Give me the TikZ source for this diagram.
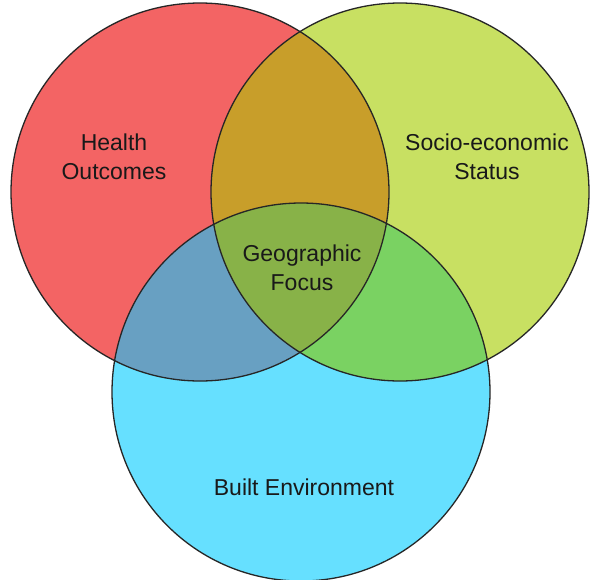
\documentclass[tikz,border=0pt]{standalone}
\usepackage{fontspec}
\setmainfont{Liberation Sans}
\definecolor{cR}{RGB}{243,100,100}
\definecolor{cG}{RGB}{200,224,98}
\definecolor{cB}{RGB}{102,224,255}
\definecolor{cRG}{RGB}{200,158,42}
\definecolor{cRB}{RGB}{104,160,194}
\definecolor{cGB}{RGB}{122,210,98}
\definecolor{cRGB}{RGB}{136,178,72}
\begin{document}
\begin{tikzpicture}[x=1pt,y=-1pt,
  outline/.style={draw=black!85,line width=1.3pt},
  lbl/.style={align=center,font=\fontsize{23}{29}\selectfont,text=black!90}]
\useasboundingbox (0,0) rectangle (591,579);
\fill[white] (0,0) rectangle (591,579);
\coordinate (R) at (200,192);
\coordinate (G) at (400,192);
\coordinate (B) at (301,392);
\def\rad{189}
\fill[cR] (R) circle[radius=\rad];
\fill[cG] (G) circle[radius=\rad];
\fill[cB] (B) circle[radius=\rad];
\begin{scope}
  \clip (R) circle[radius=\rad];
  \fill[cRG] (G) circle[radius=\rad];
  \fill[cRB] (B) circle[radius=\rad];
\end{scope}
\begin{scope}
  \clip (G) circle[radius=\rad];
  \fill[cGB] (B) circle[radius=\rad];
\end{scope}
\begin{scope}
  \clip (R) circle[radius=\rad];
  \clip (G) circle[radius=\rad];
  \fill[cRGB] (B) circle[radius=\rad];
\end{scope}
\draw[outline] (R) circle[radius=\rad];
\draw[outline] (G) circle[radius=\rad];
\draw[outline] (B) circle[radius=\rad];
\node[lbl] (ho) at (114,157) {Health\\Outcomes};
\node[lbl] (se) at (487,157) {Socio-economic\\Status};
\node[lbl] (gf) at (302,268) {Geographic\\Focus};
\node[lbl] (be) at (304,487) {Built Environment};
\end{tikzpicture}
\end{document}
